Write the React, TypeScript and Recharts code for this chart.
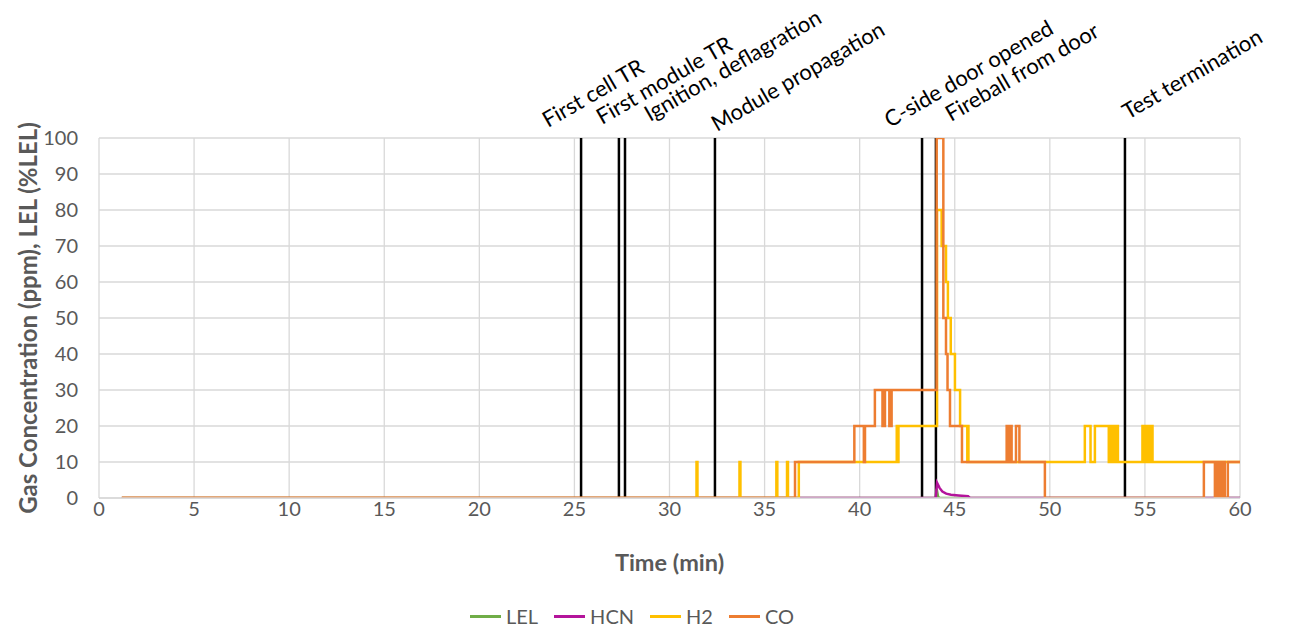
import { LineChart, Line, XAxis, YAxis, CartesianGrid, ReferenceLine, Legend } from 'recharts';

const FONT = 'Lato, "Open Sans", sans-serif';
const TICK_COLOR = '#595959';

// time (min), value
const lelPoints: [number, number][] = [
  [1.2, 0], [44.0, 0], [44.05, 2.5], [44.12, 0.4], [44.2, 0], [60, 0],
];

const hcnPoints: [number, number][] = [
  [1.2, 0], [44.0, 0], [44.07, 4.2], [44.2, 2.8], [44.35, 1.8], [44.55, 1.2],
  [44.8, 0.9], [45.2, 0.7], [45.7, 0.5], [45.8, 0], [60, 0],
];

const h2Steps: [number, number][] = [
  [1.2, 0],
  [31.42, 10], [31.47, 0],
  [33.68, 10], [33.73, 0],
  [35.62, 10], [35.67, 0],
  [36.18, 10], [36.23, 0],
  [36.8, 10],
  [41.95, 20], [42.0, 10], [42.04, 20],
  [44.07, 80], [44.31, 70], [44.54, 60], [44.64, 50], [44.79, 40], [45.01, 30], [45.28, 20],
  [45.66, 10], [45.69, 20], [45.72, 10],
  [51.84, 20], [52.14, 10], [52.37, 20],
  [53.1, 10], [53.14, 20], [53.2, 10], [53.25, 20], [53.35, 10], [53.4, 20], [53.5, 10], [53.53, 20], [53.58, 10],
  [54.87, 20], [54.92, 10], [54.96, 20], [55.05, 10], [55.1, 20], [55.22, 10], [55.27, 20], [55.4, 10],
  [60, 10],
];

const coSteps: [number, number][] = [
  [1.2, 0],
  [36.6, 10],
  [39.72, 20], [40.22, 10], [40.28, 20],
  [40.8, 30], [41.2, 20], [41.33, 30], [41.56, 20], [41.68, 30],
  [44.05, 100], [44.4, 50], [44.54, 40], [44.62, 30], [44.75, 20], [45.38, 10],
  [47.73, 20], [47.8, 10], [47.84, 20], [47.9, 10], [47.93, 20], [47.99, 10],
  [48.22, 20], [48.4, 10],
  [49.74, 0],
  [58.1, 10], [58.68, 0], [58.76, 10], [58.85, 0], [58.95, 10], [59.0, 0], [59.1, 10], [59.2, 0], [59.36, 10],
  [60, 10],
];

const seriesNames = ['LEL', 'HCN', 'H2', 'CO'];

const eventTimes = [25.35, 27.34, 27.66, 32.39, 43.28, 44.01, 53.95];
const eventLabels = [
  'First cell TR',
  'First module TR',
  'Ignition, deflagration',
  'Module propagation',
  'C-side door opened',
  'Fireball from door',
  'Test termination',
];

const xTicks = [0, 5, 10, 15, 20, 25, 30, 35, 40, 45, 50, 55, 60];
const yTicks = [0, 10, 20, 30, 40, 50, 60, 70, 80, 90, 100];

// label start offsets (dx from line, dy above plot top)
const labelNudge: [number, number][] = [
  [-33, -10], [-17, -13], [25, -16], [2, -6], [-32, -10], [15, -16], [3, -18],
];

const toRows = (pts: [number, number][]) => pts.map(([t, v]) => ({ t, v }));

function EventLabel(props: any) {
  const { viewBox, text, dx, dy } = props;
  const x = viewBox.x + dx;
  const y = viewBox.y + dy;
  return (
    <text
      x={x}
      y={y}
      transform={`rotate(-30 ${x} ${y})`}
      fontFamily={FONT}
      fontSize={22}
      fill="#000"
      textAnchor="start"
    >
      {text}
    </text>
  );
}

function YTitle(props: any) {
  const { viewBox } = props;
  const x = viewBox.x + 29;
  const y = viewBox.y + viewBox.height / 2;
  return (
    <text
      x={x}
      y={y}
      transform={`rotate(-90 ${x} ${y})`}
      textAnchor="middle"
      fontFamily={FONT}
      fontWeight="bold"
      fontSize={24}
      fill={TICK_COLOR}
    >
      Gas Concentration (ppm), LEL (%LEL)
    </text>
  );
}

function renderLegend(props: any) {
  const { payload = [] } = props;
  const items = [...payload].sort(
    (a: any, b: any) => seriesNames.indexOf(a.value) - seriesNames.indexOf(b.value)
  );
  return (
    <div style={{ display: 'flex', justifyContent: 'center', transform: 'translateX(-5px)', fontFamily: FONT }}>
      {items.map((p: any) => (
        <div key={p.value} style={{ display: 'flex', alignItems: 'center', marginRight: 16 }}>
          <div style={{ width: 31, height: 3, background: p.color, marginRight: 5 }} />
          <span style={{ fontSize: 20, color: TICK_COLOR }}>{p.value}</span>
        </div>
      ))}
    </div>
  );
}

export default function App() {
  return (
    <div style={{ width: 1274, height: 624, marginTop: -8 }}>
      <LineChart width={1274} height={624} margin={{ top: 138, right: 42, left: 0, bottom: 0 }}>
        <CartesianGrid stroke="#D9D9D9" strokeWidth={1.3} />
        <XAxis
          dataKey="t"
          type="number"
          domain={[0, 60]}
          ticks={xTicks}
          allowDataOverflow
          height={126}
          tickLine={false}
          tickSize={0}
          tickMargin={4}
          axisLine={{ stroke: '#D9D9D9', strokeWidth: 1.3 }}
          tick={{ fill: TICK_COLOR, fontSize: 20, fontFamily: FONT }}
          label={{
            value: 'Time (min)',
            position: 'insideTop',
            offset: 56,
            fill: TICK_COLOR,
            fontSize: 23.5,
            fontWeight: 'bold',
            fontFamily: FONT,
          }}
        />
        <YAxis
          type="number"
          domain={[0, 100]}
          ticks={yTicks}
          allowDataOverflow
          width={91}
          tickLine={false}
          axisLine={false}
          tickSize={0}
          tickMargin={21}
          tick={{ fill: TICK_COLOR, fontSize: 20, fontFamily: FONT }}
          label={<YTitle />}
        />
        <Legend
          layout="horizontal"
          verticalAlign="middle"
          align="center"
          content={renderLegend}
          wrapperStyle={{ top: 604, left: 0, width: 1274 }}
        />
        {eventTimes.map((t, i) => (
          <ReferenceLine
            key={eventLabels[i]}
            x={t}
            stroke="#000"
            strokeWidth={2.5}
            label={<EventLabel text={eventLabels[i]} dx={labelNudge[i][0]} dy={labelNudge[i][1]} />}
          />
        ))}
        <Line data={toRows(lelPoints)} dataKey="v" name="LEL" type="linear" stroke="#70AD47" strokeWidth={2.5} dot={false} activeDot={false} isAnimationActive={false} />
        <Line data={toRows(hcnPoints)} dataKey="v" name="HCN" type="linear" stroke="#B4149B" strokeWidth={2.5} dot={false} activeDot={false} isAnimationActive={false} />
        <Line data={toRows(h2Steps)} dataKey="v" name="H2" type="stepAfter" stroke="#FFC000" strokeWidth={2.5} dot={false} activeDot={false} isAnimationActive={false} />
        <Line data={toRows(coSteps)} dataKey="v" name="CO" type="stepAfter" stroke="#ED7D31" strokeWidth={2.5} dot={false} activeDot={false} isAnimationActive={false} />
      </LineChart>
    </div>
  );
}
